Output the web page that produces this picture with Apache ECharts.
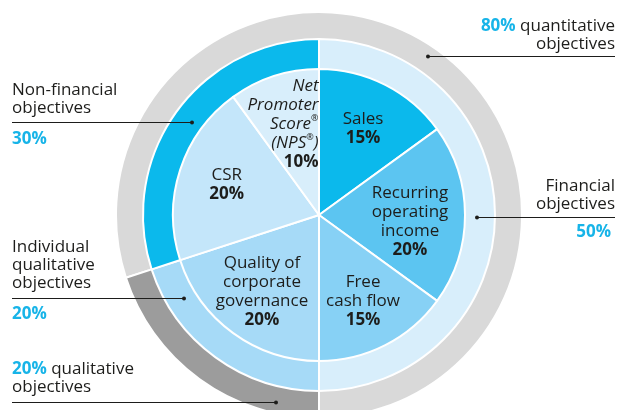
<!DOCTYPE html>
<html>
<head>
<meta charset="utf-8">
<script src="https://cdn.jsdelivr.net/npm/echarts@6/dist/echarts.min.js"></script>
<style>html,body{margin:0;padding:0;background:#fff}#c{width:617px;height:410px}</style>
</head>
<body>
<div id="c"></div>
<script>
// ---- data ----
const innerNames = ['Sales', 'Recurring operating income', 'Free cash flow', 'Quality of corporate governance', 'CSR', 'Net Promoter Score® (NPS®)'];
const innerValues = [15, 20, 15, 20, 20, 10];
const innerLabelLines = [['Sales'], ['Recurring', 'operating', 'income'], ['Free', 'cash flow'], ['Quality of', 'corporate', 'governance'], ['CSR'], ['Net', 'Promoter', 'Score®', '(NPS®)']];
const innerColors = ['#0bb9ec', '#5cc5f1', '#87d1f5', '#a6daf7', '#c4e6fa', '#d8eefb'];

const middleNames = ['Financial objectives', 'Individual qualitative objectives', 'Non-financial objectives'];
const middleValues = [50, 20, 30];
const middleColors = ['#d8eefb', '#a6daf7', '#0bb9ec'];

const outerNames = ['quantitative objectives', 'qualitative objectives'];
const outerValues = [80, 20];
const outerColors = ['#d9d9d9', '#9c9c9c'];

// ---- chart ----
const FONT = '"Open Sans"';
const FS = 17;
const DARK = '#1d1d1b';
const BLUE = '#17b4e8';
const cx = 319, cy = 215;

function innerFormatter(p) {
  const i = p.dataIndex;
  const lines = innerLabelLines[i];
  const isNps = i === 5;
  const style = isNps ? 'it' : 'n';
  const parts = lines.map(l => {
    if (l.indexOf('®') >= 0) {
      const segs = l.split('®');
      let out = '';
      segs.forEach((s, k) => {
        if (s) out += '{' + style + '|' + s + '}';
        if (k < segs.length - 1) out += '{' + (isNps ? 'supr' : 'sup') + '|®}';
      });
      return out;
    }
    return '{' + style + '|' + l + '}';
  });
  parts.push('{' + (isNps ? 'br' : 'b') + '|' + innerValues[i] + '%}');
  return parts.join('\n');
}

const chart = echarts.init(document.getElementById('c'), null, { renderer: 'canvas' });

const innerData = innerNames.map((n, i) => ({ name: n, value: innerValues[i], itemStyle: { color: innerColors[i] } }));
const labelData = innerNames.map((n, i) => {
  const d = { name: n, value: innerValues[i] };
  if (i === 5) d.label = { padding: [2, 12, 0, 0] };
  if (i === 1) d.label = { padding: [14, 12, 0, 0] };
  if (i === 3) d.label = { padding: [0, 0, 4, 0] };
  return d;
});

const richStyles = {
  n: { fontFamily: FONT, fontSize: FS, color: DARK, lineHeight: 19, align: 'center' },
  it: { fontFamily: FONT, fontSize: FS, fontStyle: 'italic', color: DARK, lineHeight: 19, align: 'right' },
  sup: { fontFamily: FONT, fontSize: 9, color: DARK, lineHeight: 19, verticalAlign: 'top', padding: [0, 0, 6, 0] },
  supr: { fontFamily: FONT, fontSize: 9, color: DARK, lineHeight: 19, verticalAlign: 'top', align: 'right', padding: [0, 0, 6, 0] },
  b: { fontFamily: FONT, fontSize: FS, fontWeight: 'bold', color: DARK, lineHeight: 19, align: 'center' },
  br: { fontFamily: FONT, fontSize: FS, fontWeight: 'bold', color: DARK, lineHeight: 19, align: 'right' }
};

const annRich = {
  b: { fontFamily: FONT, fontSize: FS, fontWeight: 'bold', fill: BLUE, lineHeight: 18 },
  t: { fontFamily: FONT, fontSize: FS, fill: DARK, lineHeight: 18 }
};

function annText(x, y, text, align) {
  return { type: 'text', x: x, y: y, z: 100, silent: true, style: { text: text, align: align, verticalAlign: 'top', fontFamily: FONT, fontSize: FS, fill: DARK, lineHeight: 18, rich: annRich } };
}
function annLine(x1, y, x2) {
  return { type: 'line', z: 100, silent: true, shape: { x1: x1, y1: y + 0.5, x2: x2, y2: y + 0.5 }, style: { stroke: '#1d1d1b', lineWidth: 1 } };
}
function annDot(x, y) {
  return { type: 'circle', z: 101, silent: true, shape: { cx: x, cy: y + 0.5, r: 2 }, style: { fill: '#1d1d1b' } };
}

const graphics = [
  // Non-financial
  annText(12, 81, 'Non-financial\nobjectives', 'left'),
  annLine(12, 122, 192), annDot(192, 122),
  annText(12, 130, '{b|' + middleValues[2] + '%}', 'left'),
  // Individual qualitative
  annText(12, 238, 'Individual\nqualitative\nobjectives', 'left'),
  annLine(12, 298, 184), annDot(184, 298),
  annText(12, 305, '{b|' + middleValues[1] + '%}', 'left'),
  // qualitative
  annText(12, 360, '{b|' + outerValues[1] + '%}{t| qualitative}\n{t|objectives}', 'left'),
  annLine(12, 402, 276), annDot(276, 402),
  // quantitative
  annText(615, 17, '{b|' + outerValues[0] + '%}{t| quantitative}\n{t|objectives}', 'right'),
  annLine(428, 56, 615), annDot(428, 56),
  // Financial
  annText(615, 177, 'Financial\nobjectives', 'right'),
  annLine(477, 217, 615), annDot(477, 217),
  annText(611, 223, '{b|' + middleValues[0] + '%}', 'right')
];

const common = {
  type: 'pie',
  center: [cx, cy],
  clockwise: true,
  silent: true,
  animation: false,
  emphasis: { disabled: true },
  labelLine: { show: false }
};

chart.setOption({
  animation: false,
  series: [
    Object.assign({}, common, {
      name: 'outer', radius: [175, 203], startAngle: 198,
      label: { show: false },
      itemStyle: { borderColor: '#fff', borderWidth: 2 },
      data: outerNames.map((n, i) => ({ name: n, value: outerValues[i], itemStyle: { color: outerColors[i] } }))
    }),
    Object.assign({}, common, {
      name: 'middle', radius: [145, 176], startAngle: 90,
      label: { show: false },
      itemStyle: { borderColor: '#fff', borderWidth: 2 },
      data: middleNames.map((n, i) => ({ name: n, value: middleValues[i], itemStyle: { color: middleColors[i] } }))
    }),
    Object.assign({}, common, {
      name: 'inner', radius: [0, 146], startAngle: 90,
      label: { show: false },
      itemStyle: { borderColor: '#fff', borderWidth: 2 },
      data: innerData
    }),
    Object.assign({}, common, {
      name: 'innerLabels', radius: [42, 146], startAngle: 90,
      itemStyle: { color: 'rgba(0,0,0,0)', borderWidth: 0 },
      label: { show: true, position: 'inside', formatter: innerFormatter, rich: richStyles },
      labelLayout: { hideOverlap: false },
      data: labelData
    })
  ],
  graphic: graphics
});
</script>
</body>
</html>
